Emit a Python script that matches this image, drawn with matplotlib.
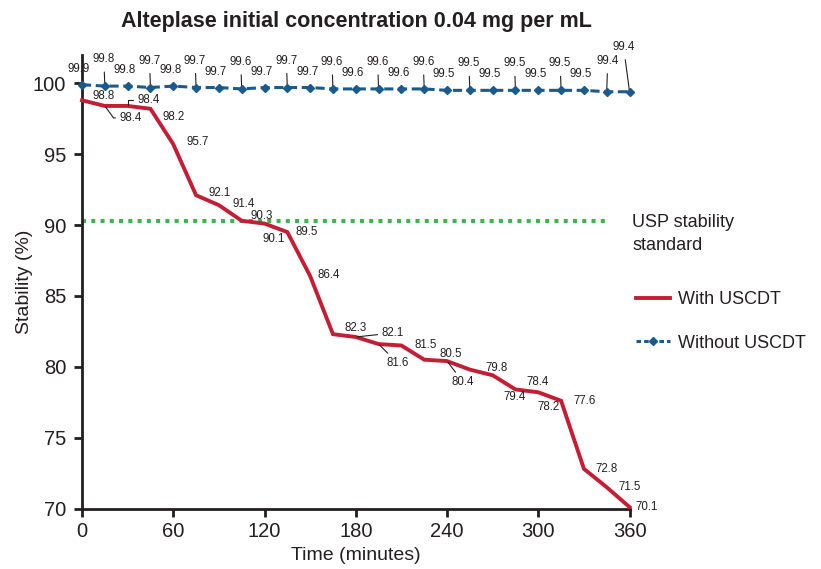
"""
Alteplase stability over time, with and without USCDT
"""
import matplotlib
matplotlib.use('Agg')
import matplotlib.pyplot as plt
from matplotlib.lines import Line2D

# Data
times = [0, 15, 30, 45, 60, 75, 90, 105, 120, 135, 150, 165, 180,
         195, 210, 225, 240, 255, 270, 285, 300, 315, 330, 345, 360]
with_uscdt = [98.8, 98.4, 98.4, 98.2, 95.7, 92.1, 91.4, 90.3, 90.1, 89.5, 86.4, 82.3, 82.1,
              81.6, 81.5, 80.5, 80.4, 79.8, 79.4, 78.4, 78.2, 77.6, 72.8, 71.5, 70.1]
without_uscdt = [99.9, 99.8, 99.8, 99.7, 99.8, 99.7, 99.7, 99.6, 99.7, 99.7, 99.7, 99.6, 99.6,
                 99.6, 99.6, 99.6, 99.5, 99.5, 99.5, 99.5, 99.5, 99.5, 99.5, 99.4, 99.4]
usp_standard = 90.3
usp_end = 345
x_ticks = [0, 60, 120, 180, 240, 300, 360]
y_ticks = [70, 75, 80, 85, 90, 95, 100]

RED = '#c41e35'
BLUE = '#1a5a8c'
GREEN = '#3cb54a'
DARK = '#231f20'

# label placement for the red series: (dx px, dy px down, leader)
red_offsets = [(22, -4, None), (26, 12, 'elbow_down'), (21, -6, 'elbow_up'), (23, 8, None),
               (24, -2, None), (24, -2, None), (25, -1, None), (20, -5, None),
               (9, 15, None), (19, 0, None), (19, -1, None), (23, -6, None),
               (37, -4, 'line'), (19, 19, 'line'), (24, -1, None), (27, -6, None),
               (16, 21, 'line'), (27, -2, None), (22, 22, None), (22, -7, None),
               (10, 15, None), (24, 0, None), (23, 0, None), (23, 0, None), (17, 0, None)]

PX = 0.72  # points per pixel at 100 dpi

plt.rcParams['font.family'] = ['Liberation Sans', 'DejaVu Sans']

fig = plt.figure(figsize=(8.21, 5.69), dpi=100)
ax = fig.add_axes([0.0999, 0.1063, 0.6669, 0.7972])

ax.plot([0, usp_end], [usp_standard, usp_standard], color=GREEN, lw=2.9,
        linestyle=(0, (1, 1.3)), dash_capstyle='butt', zorder=2)
ax.plot(times, with_uscdt, color=RED, lw=2.8, zorder=3, clip_on=False,
        solid_joinstyle='miter')
ax.plot(times, without_uscdt, color=BLUE, lw=2.2, linestyle=(0, (3, 1.5)),
        marker='D', markersize=4.5, zorder=4, clip_on=False)

label_kw = dict(fontsize=8.3, color=DARK, ha='center', va='center',
                textcoords='offset points', annotation_clip=False)

# red labels
for t, v, (dx, dy, leader) in zip(times, with_uscdt, red_offsets):
    xy_text = (dx * PX, -dy * PX)
    if leader is None:
        ax.annotate(f'{v:.1f}', (t, v), xytext=xy_text, **label_kw)
    elif leader == 'line':
        ax.annotate(f'{v:.1f}', (t, v), xytext=xy_text,
                    arrowprops=dict(arrowstyle='-', color=DARK, lw=0.8,
                                    shrinkA=1, shrinkB=1), **label_kw)
    elif leader == 'elbow_up':
        ax.annotate(f'{v:.1f}', (t, v), xytext=xy_text,
                    arrowprops=dict(arrowstyle='-', color=DARK, lw=0.8, shrinkA=1, shrinkB=1,
                                    connectionstyle='angle,angleA=0,angleB=90,rad=0'),
                    **label_kw)
    else:
        ax.annotate(f'{v:.1f}', (t, v), xytext=xy_text,
                    arrowprops=dict(arrowstyle='-', color=DARK, lw=0.8, shrinkA=1, shrinkB=1,
                                    connectionstyle='angle,angleA=0,angleB=-54,rad=0'),
                    **label_kw)

# blue labels, every other one raised on a leader
for i, (t, v) in enumerate(zip(times, without_uscdt)):
    if i == len(times) - 1:
        dx, dy, leader = -6, -45, True
    elif i == len(times) - 2:
        dx, dy, leader = 1, -31, True
    elif i % 2 == 1:
        dx, dy, leader = -1, -27, True
    else:
        dx, dy, leader = -3, -16, False
    if leader:
        ax.annotate(f'{v:.1f}', (t, v), xytext=(dx * PX, -dy * PX),
                    arrowprops=dict(arrowstyle='-', color=DARK, lw=0.8,
                                    shrinkA=3, shrinkB=1), **label_kw)
    else:
        ax.annotate(f'{v:.1f}', (t, v), xytext=(dx * PX, -dy * PX), **label_kw)

ax.set_xlim(0, 360)
ax.set_ylim(70, 102)
ax.set_xticks(x_ticks)
ax.set_yticks(y_ticks)
ax.spines['top'].set_visible(False)
ax.spines['right'].set_visible(False)
for side in ['left', 'bottom']:
    ax.spines[side].set_linewidth(2)
    ax.spines[side].set_color(DARK)
ax.tick_params(axis='both', length=5.5, width=2, color=DARK, labelsize=14.5,
               labelcolor=DARK)
ax.tick_params(axis='x', pad=4.5)
ax.tick_params(axis='y', pad=6)

ax.set_ylabel('Stability (%)', fontsize=14, color=DARK, labelpad=0)
fig.text(356 / 821, 1 - 555 / 569, 'Time (minutes)', fontsize=14, color=DARK,
         ha='center', va='center')
fig.text(356.5 / 821, 1 - 21 / 569, 'Alteplase initial concentration 0.04 mg per mL',
         fontsize=15.5, fontweight='bold', color=DARK, ha='center', va='center')

# legend
fig.text(632 / 821, 1 - 214 / 569, 'USP stability\nstandard', fontsize=13, color=DARK,
         ha='left', va='top', linespacing=1.45)
handles = [Line2D([], [], color=RED, lw=2.8),
           Line2D([], [], color=BLUE, lw=2.2, linestyle=(0, (1.5, 1)),
                  marker='D', markersize=4.5)]
fig.legend(handles, ['With USCDT', 'Without USCDT'], loc='upper left',
           bbox_to_anchor=(636 / 821, 1 - 291 / 569), frameon=False, fontsize=13,
           handlelength=1.9, handletextpad=0.4, labelspacing=1.47,
           borderpad=0, borderaxespad=0, numpoints=1, labelcolor=DARK)

fig.savefig('out.png', dpi=100)
